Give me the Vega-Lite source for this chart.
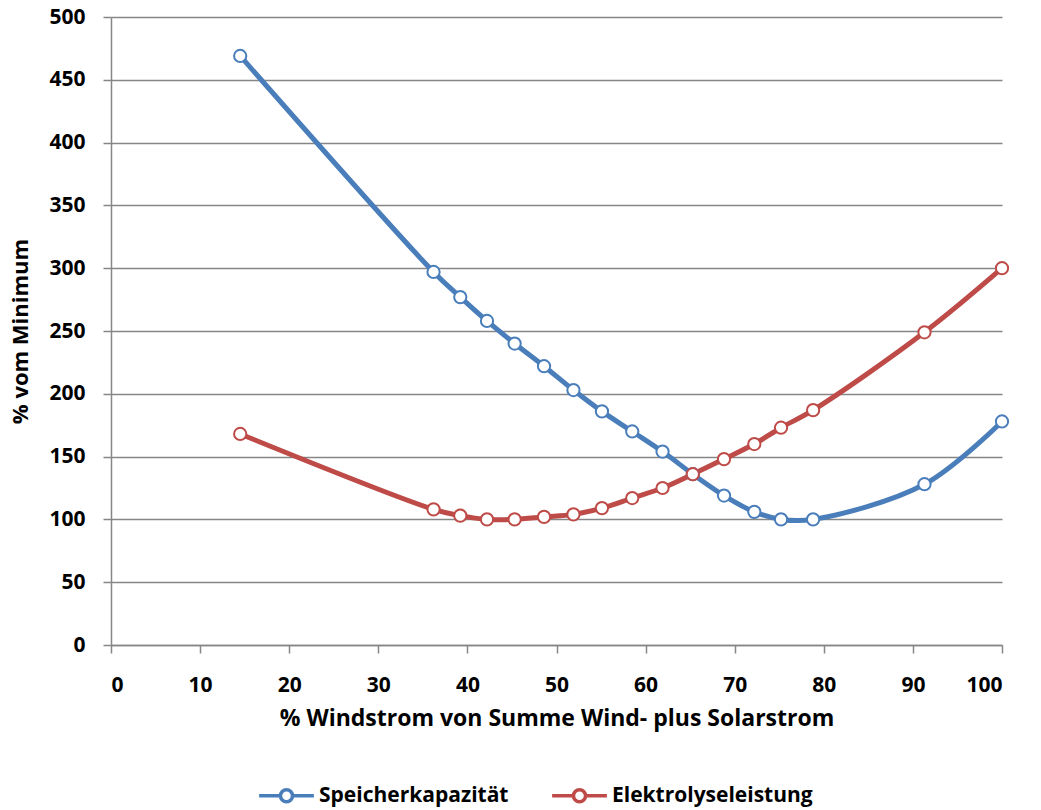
{
  "$schema": "https://vega.github.io/schema/vega-lite/v6.json",
  "autosize": "none",
  "width": 891,
  "height": 628,
  "padding": {"left": 111, "top": 17, "right": 39, "bottom": 165},
  "background": "white",
  "config": {
    "view": {"stroke": null},
    "font": "Open Sans",
    "axis": {
      "labelFont": "Open Sans", "labelFontWeight": "bold", "labelFontSize": 21, "labelColor": "black",
      "titleFont": "Open Sans", "titleFontWeight": "bold", "titleFontSize": 22, "titleColor": "black",
      "domainColor": "#868686", "tickColor": "#868686", "gridColor": "#868686",
      "domainWidth": 1.5, "tickWidth": 1.5, "gridWidth": 1.5, "tickSize": 8
    },
    "legend": {
      "labelFont": "Open Sans", "labelFontWeight": "bold", "labelFontSize": 21, "labelColor": "black", "labelLimit": 0
    }
  },
  "data": {
    "values": [
      {"x": 14.5, "y": 469, "s": "Speicherkapazität"},
      {"x": 36.2, "y": 297, "s": "Speicherkapazität"},
      {"x": 39.2, "y": 277, "s": "Speicherkapazität"},
      {"x": 42.2, "y": 258, "s": "Speicherkapazität"},
      {"x": 45.3, "y": 240, "s": "Speicherkapazität"},
      {"x": 48.6, "y": 222, "s": "Speicherkapazität"},
      {"x": 51.9, "y": 203, "s": "Speicherkapazität"},
      {"x": 55.1, "y": 186, "s": "Speicherkapazität"},
      {"x": 58.5, "y": 170, "s": "Speicherkapazität"},
      {"x": 61.9, "y": 154, "s": "Speicherkapazität"},
      {"x": 65.3, "y": 136, "s": "Speicherkapazität"},
      {"x": 68.8, "y": 119, "s": "Speicherkapazität"},
      {"x": 72.2, "y": 106, "s": "Speicherkapazität"},
      {"x": 75.2, "y": 100, "s": "Speicherkapazität"},
      {"x": 78.8, "y": 100, "s": "Speicherkapazität"},
      {"x": 91.3, "y": 128, "s": "Speicherkapazität"},
      {"x": 100, "y": 178, "s": "Speicherkapazität"},
      {"x": 14.5, "y": 168, "s": "Elektrolyseleistung"},
      {"x": 36.2, "y": 108, "s": "Elektrolyseleistung"},
      {"x": 39.2, "y": 103, "s": "Elektrolyseleistung"},
      {"x": 42.2, "y": 100, "s": "Elektrolyseleistung"},
      {"x": 45.3, "y": 100, "s": "Elektrolyseleistung"},
      {"x": 48.6, "y": 102, "s": "Elektrolyseleistung"},
      {"x": 51.9, "y": 104, "s": "Elektrolyseleistung"},
      {"x": 55.1, "y": 109, "s": "Elektrolyseleistung"},
      {"x": 58.5, "y": 117, "s": "Elektrolyseleistung"},
      {"x": 61.9, "y": 125, "s": "Elektrolyseleistung"},
      {"x": 65.3, "y": 136, "s": "Elektrolyseleistung"},
      {"x": 68.8, "y": 148, "s": "Elektrolyseleistung"},
      {"x": 72.2, "y": 160, "s": "Elektrolyseleistung"},
      {"x": 75.2, "y": 173, "s": "Elektrolyseleistung"},
      {"x": 78.8, "y": 187, "s": "Elektrolyseleistung"},
      {"x": 91.3, "y": 249, "s": "Elektrolyseleistung"},
      {"x": 100, "y": 300, "s": "Elektrolyseleistung"}
    ]
  },
  "encoding": {
    "x": {
      "field": "x", "type": "quantitative",
      "scale": {"domain": [0, 100], "nice": false},
      "axis": {"values": [0,10,20,30,40,50,60,70,80,90,100], "grid": false, "labelPadding": 21, "title": "% Windstrom von Summe Wind- plus Solarstrom", "titleFontSize": 23, "titlePadding": 12}
    },
    "y": {
      "field": "y", "type": "quantitative",
      "scale": {"domain": [0, 500], "nice": false},
      "axis": {"values": [0,50,100,150,200,250,300,350,400,450,500], "grid": true, "labelPadding": 18, "title": "% vom Minimum", "titleFontSize": 22, "titlePadding": 16}
    },
    "color": {
      "field": "s", "type": "nominal",
      "scale": {"domain": ["Speicherkapazität", "Elektrolyseleistung"], "range": ["#4A7EBB", "#BE4B48"]},
      "legend": {
        "title": null, "orient": "none", "direction": "horizontal",
        "legendX": 146, "legendY": 749,
        "symbolType": "M-1,0L-0.22,0M0.22,0L1,0M-0.22,0A0.22,0.22 0 1,1 0.22,0A0.22,0.22 0 1,1 -0.22,0",
        "symbolSize": 3000, "symbolStrokeWidth": 3.5, "symbolFillColor": "white",
        "labelOffset": 3, "columnPadding": 36
      }
    }
  },
  "layer": [
    {"mark": {"type": "line", "interpolate": "catmull-rom", "strokeWidth": 5}},
    {"mark": {"type": "point", "shape": "circle", "filled": false, "fill": "white", "fillOpacity": 1, "size": 150, "strokeWidth": 2, "opacity": 1}}
  ]
}
